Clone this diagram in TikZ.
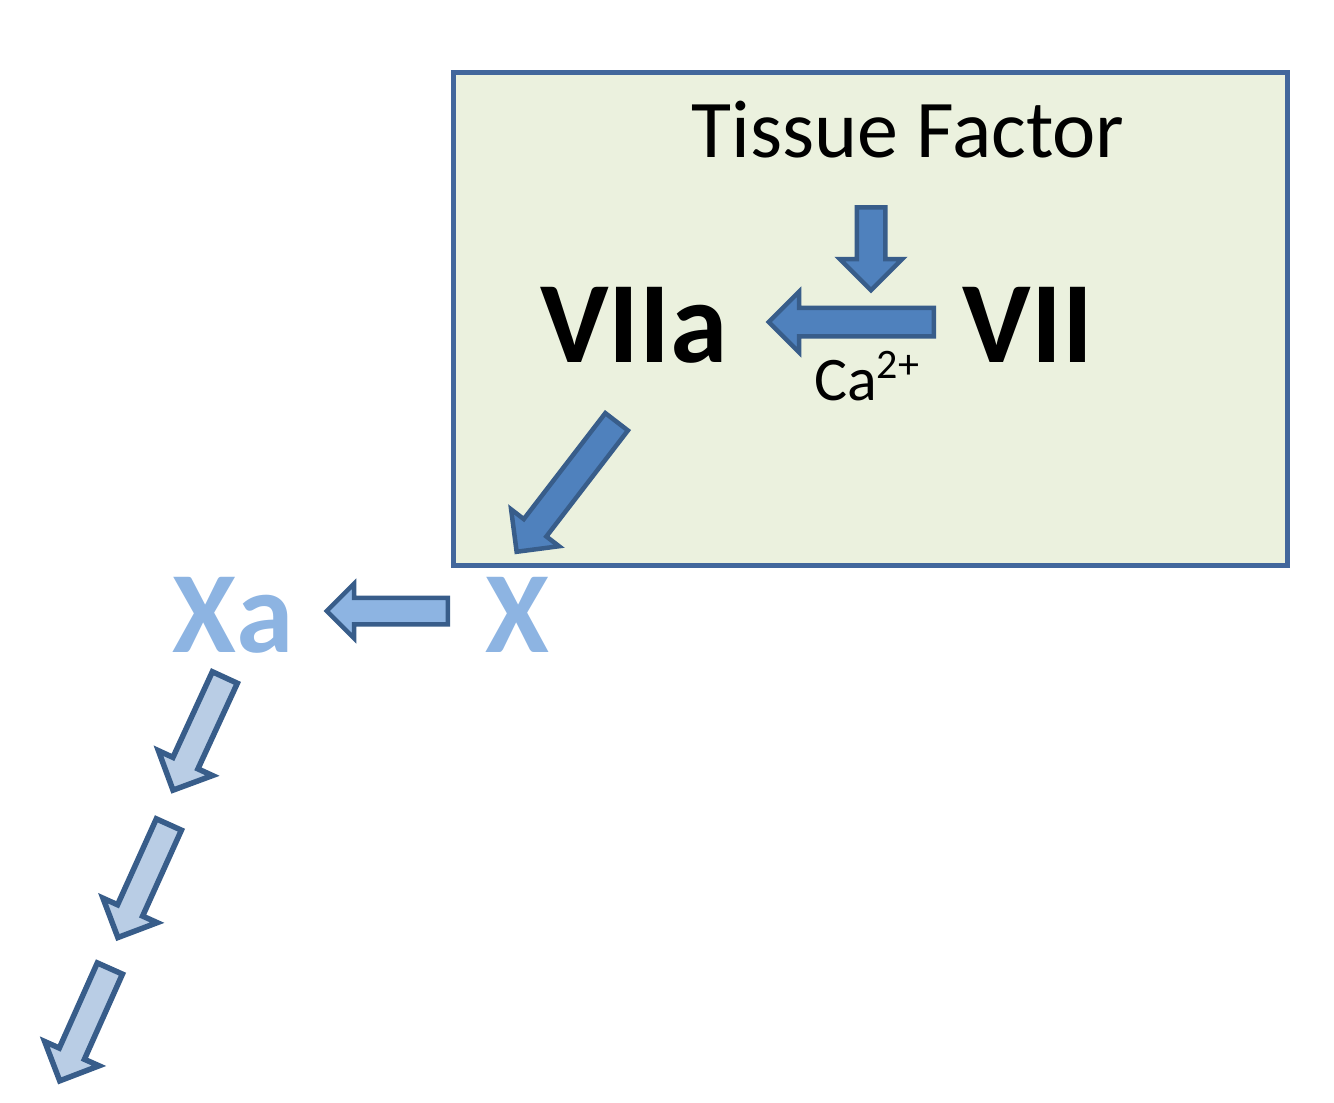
\documentclass[tikz,border=0pt]{standalone}
\usepackage{fontspec}
\setmainfont{Carlito}
\usetikzlibrary{shapes.arrows}
\definecolor{boxfill}{RGB}{235,241,222}
\definecolor{boxline}{RGB}{66,103,156}
\definecolor{arrfill}{RGB}{79,129,189}
\definecolor{arrline}{RGB}{56,93,138}
\definecolor{lightx}{RGB}{141,180,226}
\definecolor{palefill}{RGB}{185,205,229}
\tikzset{
  blockarr/.style={single arrow, draw=arrline, line width=4.5pt, inner xsep=0pt,
    inner ysep=12pt, single arrow head extend=16pt, single arrow tip angle=90,
    single arrow head indent=0pt, sloped, allow upside down, pos=0, anchor=tail},
  darkarr/.style={blockarr, fill=arrfill},
  lightarr/.style={blockarr, fill=lightx},
  palearr/.style={blockarr, fill=palefill, line width=5.5pt, inner ysep=11pt, single arrow head extend=16pt},
  factor/.style={font=\fontsize{116}{120}\selectfont\bfseries, inner sep=0pt, anchor=base},
  xfactor/.style={factor, text=lightx},
}
\begin{document}
\begin{tikzpicture}[x=1pt,y=-1pt]
\useasboundingbox (0,0) rectangle (1334,1103);
\node[draw=boxline, fill=boxfill, line width=4.5pt, minimum width=834pt, minimum height=493pt,
  inner sep=0pt, anchor=north west] (box) at (451,70) {};
\node[font=\fontsize{82}{90}\selectfont, inner sep=0pt, anchor=base] (tf) at (908,157) {Tissue Factor};
\node[factor] (viia) at (634,362) {VIIa};
\node[factor] (vii) at (1028,362) {VII};
\node[font=\fontsize{62}{66}\selectfont, inner sep=0pt, anchor=base west] (ca) at (814,400)
  {Ca\raisebox{22pt}{\fontsize{42}{44}\selectfont 2+}};
\node[xfactor] (xa) at (233,652) {Xa};
\node[xfactor] (x) at (517,652) {X};
% arrow end points
\coordinate (tfA) at (871,205); \coordinate (tfB) at (871,288);
\coordinate (viiA) at (936,322); \coordinate (viiB) at (771,322);
\coordinate (viiaA) at (618,420); \coordinate (viiaB) at (518,550);
\coordinate (xA) at (450,611); \coordinate (xB) at (329,611);
\coordinate (c1A) at (226,675); \coordinate (c1B) at (174,788);
\coordinate (c2A) at (170,822); \coordinate (c2B) at (119,935);
\coordinate (c3A) at (111,966); \coordinate (c3B) at (61,1078);
\path (tfA) -- (tfB) node[darkarr, minimum height=83pt, single arrow head extend=17pt, inner ysep=12pt] (a1) {};
\path (viiA) -- (viiB) node[darkarr, minimum height=165pt] (a2) {};
\path (viiaA) -- (viiaB) node[darkarr, minimum height=164pt] (a3) {};
\path (xA) -- (xB) node[lightarr, minimum height=121pt, inner ysep=11pt, single arrow head extend=14pt] (a4) {};
\path (c1A) -- (c1B) node[palearr, minimum height=124pt] (a5) {};
\path (c2A) -- (c2B) node[palearr, minimum height=124pt] (a6) {};
\path (c3A) -- (c3B) node[palearr, minimum height=123pt] (a7) {};
\end{tikzpicture}
\end{document}
